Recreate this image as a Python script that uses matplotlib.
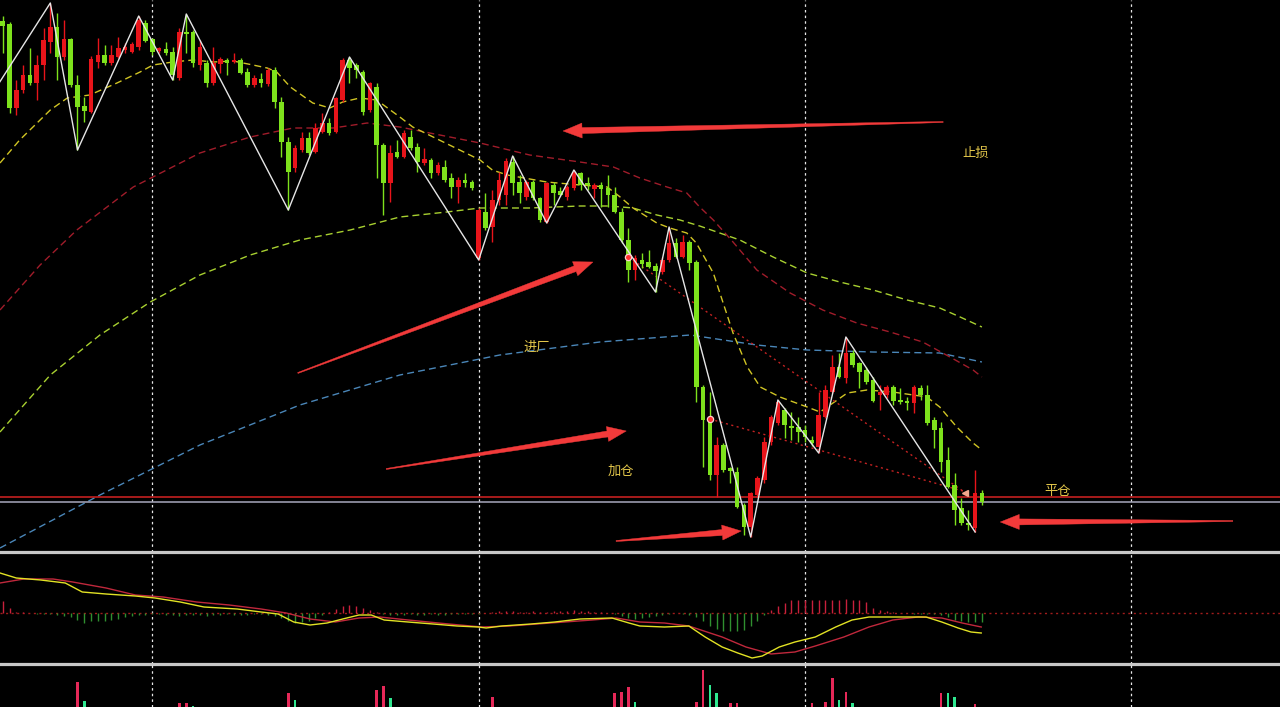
import numpy as np
import matplotlib
matplotlib.use('Agg')
import matplotlib.pyplot as plt
from matplotlib.patches import Polygon

plt.rcParams['font.family'] = ['Noto Sans CJK SC', 'DejaVu Sans']

# ---------------- price data (levels measured downward from top of price panel) ----------------
opens = [21, 24, 108, 90, 75, 83, 65, 42, 27, 57, 39, 85, 106, 112, 62, 55, 63, 57, 50, 52,
         47, 23, 39, 51, 49, 52, 78, 32, 32, 65, 63, 83, 64, 60, 62, 60, 72, 85, 79, 84,
         70, 102, 142, 168, 150, 138, 152, 132, 123, 132, 100, 60, 65, 72, 110, 87, 145, 183, 152, 157,
         137, 147, 163, 160, 173, 167, 178, 187, 180, 182, 258, 212, 227, 200, 195, 162, 182, 197, 182, 198,
         222, 185, 191, 197, 188, 173, 183, 189, 185, 188, 195, 212, 240, 270, 260, 262, 266, 272, 260, 243,
         257, 242, 262, 387, 420, 475, 445, 468, 472, 505, 527, 495, 480, 442, 423, 410, 426, 427, 430, 440,
         447, 417, 392, 367, 378, 353, 363, 370, 380, 395, 395, 387, 400, 401, 403, 388, 395, 420, 428, 460,
         485, 508, 523, 528, 493]
closes = [26, 108, 90, 75, 83, 65, 40, 27, 57, 39, 85, 107, 111, 59, 55, 63, 55, 48, 47, 44,
          20, 41, 52, 48, 53, 75, 32, 34, 63, 47, 83, 63, 59, 63, 60, 73, 85, 78, 83, 70,
          102, 142, 172, 148, 138, 153, 128, 123, 133, 98, 60, 68, 70, 112, 83, 145, 183, 153, 157, 133,
          148, 162, 159, 173, 165, 180, 187, 180, 183, 188, 210, 228, 200, 180, 161, 183, 193, 182, 198, 220,
          183, 193, 195, 187, 172, 185, 185, 185, 189, 195, 212, 240, 270, 258, 264, 267, 271, 260, 243, 257,
          242, 263, 387, 420, 475, 445, 470, 471, 507, 527, 493, 478, 442, 417, 402, 425, 428, 432, 437, 443,
          415, 390, 367, 377, 353, 365, 372, 382, 401, 392, 387, 401, 402, 403, 387, 395, 423, 430, 462, 487,
          510, 523, 525, 493, 502]
highs = [16, 22, 80, 65, 48, 55, 28, 3, 13, 20, 38, 75, 97, 56, 38, 45, 45, 37, 43, 42,
         16, 20, 38, 47, 42, 47, 28, 14, 30, 40, 60, 47, 57, 58, 53, 58, 68, 75, 73, 68,
         67, 97, 137, 145, 132, 132, 123, 113, 118, 97, 58, 57, 63, 70, 82, 83, 143, 145, 140, 130,
         130, 143, 148, 158, 162, 160, 173, 177, 173, 180, 208, 193, 190, 172, 158, 156, 175, 180, 180, 197,
         182, 182, 187, 185, 170, 172, 177, 183, 182, 175, 187, 208, 228, 255, 253, 250, 263, 257, 227, 238,
         235, 240, 260, 385, 392, 437, 443, 467, 467, 503, 492, 476, 437, 415, 400, 408, 412, 417, 425, 436,
         392, 385, 355, 353, 337, 350, 362, 367, 377, 385, 385, 385, 388, 397, 385, 385, 385, 417, 422, 447,
         473, 498, 510, 470, 490]
lows = [53, 113, 115, 93, 85, 100, 80, 53, 80, 60, 87, 150, 122, 113, 68, 65, 65, 58, 53, 53,
        50, 42, 55, 53, 55, 80, 80, 53, 67, 70, 87, 85, 73, 75, 63, 74, 87, 87, 87, 86,
        108, 157, 210, 172, 152, 155, 153, 133, 135, 133, 102, 83, 78, 115, 112, 178, 215, 202, 158, 158,
        150, 172, 165, 178, 175, 182, 198, 203, 187, 190, 260, 230, 242, 205, 205, 195, 203, 200, 200, 222,
        223, 205, 196, 200, 190, 190, 190, 198, 207, 207, 213, 243, 282, 280, 268, 268, 292, 274, 262, 258,
        258, 270, 402, 467, 480, 497, 472, 483, 508, 535, 537, 497, 483, 445, 425, 438, 440, 442, 442, 446,
        453, 418, 393, 378, 383, 367, 388, 384, 402, 410, 398, 405, 404, 410, 413, 400, 425, 448, 472, 488,
        525, 525, 530, 532, 505]

# zigzag vertices (bar index, level)
zz_idx = [-1, 7, 11, 20, 25, 27, 42, 51, 70, 75, 80, 84, 96, 98, 110, 114, 120, 124, 143]
zz_val = [88, 3, 150, 16, 80, 14, 210, 57, 260, 156, 223, 170, 292, 227, 537, 400, 453, 337, 532]

# moving averages (bar index, level)
ma_y_idx = [-0.4, 2.5, 7, 9.5, 12.8, 16.8, 20.2, 22.1, 25, 28, 31, 33.9, 36.8, 38.9, 40.3, 42.3, 45.6, 48.1,
            50, 52.5, 55, 58.4, 60.3, 70.2, 72, 74.2, 80, 84.9, 88.9, 90.8, 92.7, 96.2, 98.1, 100.6, 102,
            104.5, 107.4, 109.5, 111.4, 114.3, 118.3, 120.2, 122.1, 124.2, 127.1, 130.9, 135.9, 137.8,
            140.3, 142.7, 144]
ma_y_val = [163, 140, 110, 98, 95, 83, 72, 65, 62, 60, 62, 61, 65, 68, 72, 87, 103, 108,
            102, 98, 100, 117, 127, 160, 170, 175, 182, 185, 187, 197, 208, 223, 228, 233, 243,
            273, 333, 367, 387, 397, 407, 412, 403, 393, 390, 392, 397, 407,
            427, 443, 450]
ma_g_idx = [-0.4, 7, 14.3, 21.7, 29, 36.4, 43.7, 51.1, 58.4, 65.3, 70.2, 77.5, 84.9, 89.3, 92.7, 96.2, 99.6,
            102.5, 108.4, 113.3, 118.3, 123.1, 128, 133, 137.8, 140.8, 144]
ma_g_val = [432, 375, 335, 302, 275, 255, 240, 230, 217, 212, 208, 208, 206, 206, 208, 215, 220,
            226, 240, 257, 273, 282, 290, 300, 308, 317, 327]
ma_r_idx = [-0.4, 5.5, 10.9, 19.2, 29, 36.4, 42.7, 48.6, 53.6, 58.4, 62.8, 70.2, 77.5, 84.9, 89.8, 93.7,
            97.7, 100.6, 102.5, 104.5, 107.4, 110.9, 115.8, 120.6, 125.6, 130.5, 135.3, 139.3, 142.7, 144]
ma_r_val = [310, 265, 230, 187, 153, 137, 128, 128, 123, 127, 133, 143, 155, 162, 167, 178,
            187, 193, 207, 220, 242, 270, 293, 310, 323, 332, 342, 357, 370, 377]
ma_b_idx = [-0.4, 14.3, 29, 43.7, 58.4, 73.1, 87.8, 101.1, 110.9, 118.3, 128, 137.8, 144]
ma_b_val = [548, 495, 445, 405, 375, 355, 342, 335, 345, 350, 352, 353, 362]

# horizontal levels
red_level = 497
gray_level = 501.5

# trades: entries and exit (bar index, level)
entry_idx = [92, 104]
entry_val = [257, 419]
exit_idx = 141.2
exit_val = 491

# annotations
labels = ['止损', '进厂', '加仓', '平仓']
label_idx = [143.1, 78.6, 90.9, 155.2]
label_val = [153, 347, 471, 492]
arrow_tail_idx = [138.3, 43.4, 56.4, 90.2, 180.9]
arrow_tail_val = [122, 373, 469, 541, 521]
arrow_head_idx = [82.4, 86.8, 91.7, 108.6, 146.7]
arrow_head_val = [131, 262, 431, 531, 522]

# MACD panel (value above zero line)
macd_idx = [-0.4, 2, 5.6, 9.2, 11.7, 15.2, 19.5, 22.4, 26.1, 29.6, 34.5, 38, 40.5, 42.8, 45.2, 47.7, 50, 52.4,
            54.2, 56.1, 59.6, 63.3, 66.8, 69.9, 71.1, 73.4, 77.7, 81.2, 84.9, 89.6, 92.1, 93.7, 97.3, 100.9,
            103.3, 105.8, 108.1, 110.2, 111.7, 114.2, 116.5, 119.5, 122.5, 124.9, 127.4, 132.1, 135.8, 138.1,
            140.5, 142.4, 143.9]
macd_val = [40, 35, 33, 30, 21, 19, 17, 15, 11, 6, 4, 1, -1, -9, -12, -10, -6, -2,
            -2, -7, -9, -11, -13, -14, -15, -13, -11, -9, -6, -5, -10, -13, -14, -13,
            -24, -34, -40, -45, -43, -34, -29, -24, -14, -7, -4, -4, -4, -9,
            -15, -19, -20]
sig_idx = [-0.4, 3.1, 7.4, 10.3, 15.2, 19.5, 23.6, 28.5, 33.3, 38, 41.7, 45.2, 48.9, 52.4, 55.5, 59.6, 65.6,
           70.5, 74.6, 80.6, 86.7, 90.2, 93.7, 97.3, 100.9, 105.8, 109.3, 113, 116.5, 119.5, 123.7, 127.4,
           130.9, 134.6, 138.1, 141.1, 143.9]
sig_val = [30, 34, 34, 31, 25, 18, 16, 11, 8, 4, 0, -6, -9, -5, -4, -7, -11,
           -14, -13, -10, -7, -5, -9, -10, -13, -24, -34, -41, -39, -33, -24, -14,
           -7, -4, -5, -10, -14]
hist = [12, 5, 1, 1, 0.5, -1, -1, -1, -2, -3, -4, -7, -10, -8, -8, -8, -7, -6, -4, -3,
        -2, -2, -1, -1, -2, -2, -3, -2, -2, -2, -3, -2, -2, -1, -2, -2, -2, -1, -1, -2,
        -3, -5, -8, -10, -9, -8, -5, -2, 1, 4, 7, 8, 7, 5, 3, 1, -1, -2, -2, -2,
        -1, -2, -2, -1, -2, -2, -1, -1, -1, -1, -1, 0.5, 1, 2, 2, 2, 1, 1, 2, 1,
        1, 2, 2, 2, 3, 2, 2, 1, 1, 0.5, -1, -3, -5, -6, -5, -4, -3, -2, -1, 0.5,
        -1, -2, -4, -8, -13, -16, -18, -18, -18, -17, -13, -8, -2, 3, 7, 10, 13, 13, 13, 13,
        13, 13, 13, 13, 14, 13, 13, 11, 5, 3, 2, 1, 0.5, 0.5, -0.5, -1, -1, -1, -2, -4,
        -7, -8, -9, -9, -9]

# volume panel (visible bars)
vol_idx = [11, 12, 26, 27, 28, 42, 43, 55, 56, 57, 72, 90, 91, 92, 93, 102, 103, 104, 105, 107, 108,
           119, 121, 122, 123, 124, 125, 138, 139, 140, 143]
vol_val = [25, 6, 4, 4, 1.5, 14, 7, 17, 21, 9, 10, 14, 15, 20, 5, 5, 37, 22, 14, 4, 4,
           4, 5, 29, 7, 15, 4, 14, 14, 10, 3]
vol_up = [1, 0, 1, 1, 0, 1, 0, 1, 1, 0, 1, 1, 1, 1, 0, 1, 1, 0, 0, 1, 1,
          1, 1, 1, 0, 1, 0, 1, 0, 0, 1]

grid_idx = [22, 70, 118, 166]

# ---------------- styling ----------------
BG = 'black'
GREEN = '#7ee21c'
RED = '#e8141a'
LABEL = '#e2c64a'
ARROW = '#f23a3a'

W, H = 1280, 707
X0, DX = 2.7, 6.8
xlim = (-X0 / DX, (W - X0) / DX)

fig = plt.figure(figsize=(12.8, 7.07), dpi=100, facecolor=BG)


def rect(top, bottom):
    return [0, (H - bottom) / H, 1, (bottom - top) / H]


ax = fig.add_axes(rect(0, 552))
axm = fig.add_axes(rect(552, 664))
axv = fig.add_axes(rect(664, 707))

for a in (ax, axm, axv):
    a.patch.set_visible(False)
    a.set_xlim(*xlim)
    a.set_xticks([])
    a.set_yticks([])
    for s in a.spines.values():
        s.set_visible(False)
    for g in grid_idx:
        a.axvline(g, color='#e8e8e8', lw=0.9, ls=(0, (2, 2.5)), zorder=1)

ax.set_ylim(552, 0)
axm.set_ylim(-51, 61)
axv.set_ylim(0, 43)

for a in (ax, axm):
    a.spines['bottom'].set_visible(True)
    a.spines['bottom'].set_color('#c8c8c8')
    a.spines['bottom'].set_linewidth(2.3)
    a.spines['bottom'].set_zorder(10)

# moving averages
ax.plot(ma_b_idx, ma_b_val, color='#4a86b8', lw=1, ls=(0, (5, 3)), zorder=2)
ax.plot(ma_g_idx, ma_g_val, color='#a8d030', lw=1, ls=(0, (5, 3)), zorder=2)
ax.plot(ma_r_idx, ma_r_val, color='#a01c2a', lw=1, ls=(0, (5, 3)), zorder=2)
ax.plot(ma_y_idx, ma_y_val, color='#d0c424', lw=1, ls=(0, (5, 3)), zorder=2)

# horizontal levels
ax.axhline(red_level, color='#d42222', lw=1.1, zorder=2)
ax.axhline(gray_level, color='#a8a8bc', lw=1.1, zorder=2)

# trade lines
for ei, ev in zip(entry_idx, entry_val):
    ax.plot([ei, exit_idx], [ev, exit_val], color='#c42222', lw=1, ls=(0, (1.5, 2.5)), zorder=2)

# candles
o = np.array(opens, float)
c = np.array(closes, float)
h = np.array(highs, float)
l = np.array(lows, float)
n = len(o)
idx = np.arange(n)
col = np.where(c > o, GREEN, RED)
ax.vlines(idx, h, l, colors=col, lw=1.0, zorder=3)
ax.bar(idx, np.maximum(np.abs(c - o), 1.3), bottom=np.minimum(o, c), width=0.68,
       color=col, linewidth=0, zorder=4)

# zigzag
ax.plot(zz_idx, zz_val, color='#e6e6e6', lw=1, zorder=5)

# markers
ax.plot(entry_idx, entry_val, 'o', ms=4.5, mfc='#ff3030', mec='#ffd0d0', mew=0.9, zorder=6)
ax.plot([exit_idx + 0.3], [exit_val + 2], marker='<', ms=5, color='#f2a88e', zorder=6)


# tapered arrows (thin tail widening toward the head), built in pixel space
def tapered_arrow(a, tail, head, head_len=19, head_hw=7.5, neck_hw=3.0, tail_hw=0.5, color=ARROW):
    to_px = a.transData
    p0, p1 = to_px.transform([tail, head])
    d = p1 - p0
    u = d / np.hypot(*d)
    v = np.array([-u[1], u[0]])
    nk = p1 - head_len * u
    pts = [p0 + tail_hw * v, nk + neck_hw * v, nk + head_hw * v, p1,
           nk - head_hw * v, nk - neck_hw * v, p0 - tail_hw * v]
    pts_data = to_px.inverted().transform(pts)
    a.add_patch(Polygon(pts_data, closed=True, facecolor=color, edgecolor=color, lw=0.3, zorder=7))


for ti, tv, hi, hv in zip(arrow_tail_idx, arrow_tail_val, arrow_head_idx, arrow_head_val):
    tapered_arrow(ax, (ti, tv), (hi, hv))

# labels
for t, li, lv in zip(labels, label_idx, label_val):
    ax.text(li, lv, t, color=LABEL, fontsize=9.5, ha='center', va='center', zorder=8)

# MACD panel
axm.axhline(0, color='#a01c1c', lw=1, ls=(0, (1.5, 2.5)), zorder=1)
hv = np.array(hist, float)
hcol = np.where(hv >= 0, '#c8203c', '#2f8f2f')
axm.vlines(idx, 0, hv, colors=hcol, lw=1.0, zorder=2)
axm.plot(sig_idx, sig_val, color='#c0283c', lw=1, zorder=3)
axm.plot(macd_idx, macd_val, color='#e2e224', lw=1, zorder=4)

# volume panel
vcol = ['#e62858' if u else '#2ee890' for u in vol_up]
axv.bar(vol_idx, vol_val, width=0.38, color=vcol, linewidth=0, zorder=2)

fig.savefig('out.png', dpi=100, facecolor=BG)
